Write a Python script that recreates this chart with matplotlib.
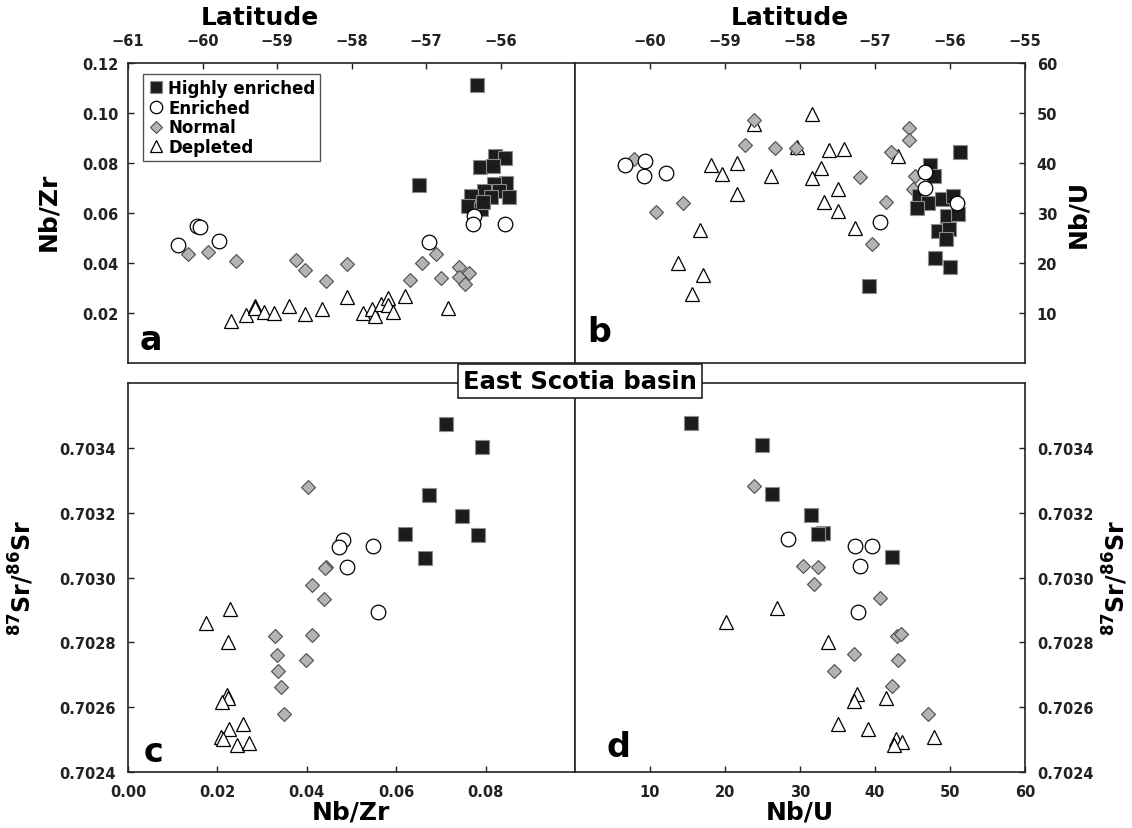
import matplotlib
matplotlib.use("Agg")
import matplotlib.pyplot as plt
from matplotlib.ticker import FormatStrFormatter

plt.rcParams['font.family'] = 'DejaVu Sans'
plt.rcParams['font.weight'] = 'bold'
plt.rcParams['mathtext.default'] = 'bf'

# ---- a: latitude vs Nb/Zr ----
a_he_lat = [-56.31, -57.09, -56.08, -55.94, -56.28, -56.10, -55.92, -56.09, -56.22,
            -56.02, -56.40, -55.89, -56.13, -56.44, -56.26, -56.24]
a_he_nbzr = [0.1112, 0.0712, 0.0829, 0.0819, 0.0783, 0.0789, 0.0719, 0.0716, 0.0689,
             0.0689, 0.0669, 0.0663, 0.0663, 0.0629, 0.0616, 0.0643]
a_en_lat = [-60.33, -60.07, -60.04, -59.78, -56.96, -56.35, -56.37, -55.94]
a_en_nbzr = [0.0472, 0.0547, 0.0545, 0.0489, 0.0485, 0.0587, 0.0556, 0.0555]
a_no_lat = [-60.20, -59.92, -59.55, -58.75, -58.62, -58.34, -58.06, -57.22, -57.05,
            -56.87, -56.80, -56.56, -56.42, -56.56, -56.48]
a_no_nbzr = [0.0436, 0.0443, 0.0409, 0.0411, 0.0373, 0.0329, 0.0397, 0.0332, 0.0400,
             0.0436, 0.0339, 0.0383, 0.0360, 0.0343, 0.0316]
a_de_lat = [-59.62, -59.42, -59.29, -59.30, -59.17, -59.04, -58.84, -58.63, -58.40,
            -58.06, -57.85, -57.73, -57.69, -57.60, -57.51, -57.51, -57.44, -57.28, -56.70]
a_de_nbzr = [0.0169, 0.0192, 0.0229, 0.0222, 0.0205, 0.0200, 0.0227, 0.0196, 0.0216,
             0.0263, 0.0200, 0.0216, 0.0187, 0.0236, 0.0259, 0.0232, 0.0203, 0.0269, 0.0219]

# ---- b: latitude vs Nb/U ----
b_he_lat = [-55.87, -56.27, -56.22, -56.42, -56.29, -56.44, -56.11, -55.96, -56.04,
            -55.89, -56.16, -56.02, -56.06, -56.20, -56.00, -57.08]
b_he_nbu = [42.3, 39.6, 37.5, 33.5, 32.0, 31.1, 32.8, 33.5, 29.5,
            29.8, 26.5, 26.9, 24.9, 21.1, 19.3, 15.5]
b_en_lat = [-60.34, -60.07, -60.08, -59.79, -56.94, -56.33, -56.33, -55.91]
b_en_nbu = [39.6, 40.5, 37.5, 38.0, 28.3, 38.3, 35.1, 32.0]
b_no_lat = [-60.21, -59.92, -59.56, -58.74, -58.61, -58.33, -58.05, -57.20, -56.86,
            -57.04, -56.79, -56.55, -56.55, -56.47, -56.50]
b_no_nbu = [40.8, 30.3, 32.0, 43.6, 48.6, 43.1, 43.1, 37.3, 32.3,
            23.8, 42.3, 47.1, 44.7, 37.5, 34.8]
b_de_lat = [-58.61, -57.84, -58.04, -59.19, -59.04, -58.84, -58.39, -58.84, -59.33,
            -59.63, -59.29, -59.44, -57.61, -57.42, -57.72, -57.84, -57.50, -57.68,
            -57.50, -57.27, -56.69]
b_de_nbu = [47.8, 49.8, 43.3, 39.6, 37.8, 40.0, 37.5, 33.8, 26.7,
            20.0, 17.6, 13.8, 42.7, 42.8, 39.1, 37.1, 34.8, 32.3,
            30.5, 27.1, 41.5]

# ---- c: Nb/Zr vs 87Sr/86Sr ----
c_he_nbzr = [0.0712, 0.0793, 0.0673, 0.0748, 0.0620, 0.0784, 0.0664]
c_he_sr = [0.703473, 0.703403, 0.703253, 0.703191, 0.703135, 0.703130, 0.703060]
c_en_nbzr = [0.0482, 0.0471, 0.0548, 0.0491, 0.0560]
c_en_sr = [0.703115, 0.703094, 0.703096, 0.703033, 0.702893]
c_no_nbzr = [0.0403, 0.0443, 0.0441, 0.0411, 0.0438, 0.0329, 0.0411, 0.0334,
             0.0399, 0.0336, 0.0342, 0.0348]
c_no_sr = [0.703280, 0.703033, 0.703028, 0.702977, 0.702934, 0.702818, 0.702823,
           0.702762, 0.702744, 0.702711, 0.702663, 0.702580]
c_de_nbzr = [0.0175, 0.0228, 0.0224, 0.0222, 0.0223, 0.0211, 0.0226, 0.0258,
             0.0207, 0.0213, 0.0243, 0.0270]
c_de_sr = [0.702861, 0.702903, 0.702800, 0.702639, 0.702629, 0.702616, 0.702534,
           0.702547, 0.702509, 0.702501, 0.702483, 0.702491]

# ---- d: Nb/U vs 87Sr/86Sr ----
d_he_nbu = [15.5, 24.9, 26.3, 31.4, 33.1, 32.4, 42.2]
d_he_sr = [0.703476, 0.703408, 0.703258, 0.703194, 0.703138, 0.703133, 0.703064]
d_en_nbu = [28.4, 37.3, 39.6, 38.0, 37.7]
d_en_sr = [0.703118, 0.703097, 0.703097, 0.703035, 0.702893]
d_no_nbu = [23.8, 30.4, 32.4, 31.9, 40.7, 42.9, 43.5, 37.2, 43.0, 34.5, 42.2, 47.0]
d_no_sr = [0.703283, 0.703035, 0.703031, 0.702979, 0.702936, 0.702820, 0.702826,
           0.702764, 0.702745, 0.702713, 0.702665, 0.702580]
d_de_nbu = [20.1, 26.9, 33.8, 37.6, 37.2, 41.5, 35.0, 39.1, 42.8, 43.6, 42.5, 47.8]
d_de_sr = [0.702864, 0.702905, 0.702800, 0.702642, 0.702619, 0.702629, 0.702547,
           0.702534, 0.702503, 0.702493, 0.702483, 0.702509]

# marker styles for the four groups
sty_he = dict(ls='none', marker='s', ms=9.5, mfc='#1c1c1c', mec='#8c8c8c', mew=0.8)
sty_en = dict(ls='none', marker='o', ms=10.5, mfc='white', mec='black', mew=0.9)
sty_no = dict(ls='none', marker='D', ms=7.4, mfc='#b3b3b3', mec='#4d4d4d', mew=0.8)
sty_de = dict(ls='none', marker='^', ms=10.5, mfc='white', mec='black', mew=0.9)

W, H = 1132, 829
fig = plt.figure(figsize=(W / 100, H / 100), dpi=100)


def rect(x0, y0, x1, y1):
    return [x0 / W, 1 - y1 / H, (x1 - x0) / W, (y1 - y0) / H]


ax_a = fig.add_axes(rect(128, 64, 575, 364))
ax_b = fig.add_axes(rect(575, 64, 1025, 364))
ax_c = fig.add_axes(rect(128, 384, 575, 773))
ax_d = fig.add_axes(rect(575, 384, 1025, 773))

panels = [
    (ax_a, a_he_lat, a_he_nbzr, a_en_lat, a_en_nbzr, a_no_lat, a_no_nbzr, a_de_lat, a_de_nbzr),
    (ax_b, b_he_lat, b_he_nbu, b_en_lat, b_en_nbu, b_no_lat, b_no_nbu, b_de_lat, b_de_nbu),
    (ax_c, c_he_nbzr, c_he_sr, c_en_nbzr, c_en_sr, c_no_nbzr, c_no_sr, c_de_nbzr, c_de_sr),
    (ax_d, d_he_nbu, d_he_sr, d_en_nbu, d_en_sr, d_no_nbu, d_no_sr, d_de_nbu, d_de_sr),
]
for ax, hx, hy, ex, ey, nx, ny, dx, dy in panels:
    l_de, = ax.plot(dx, dy, **sty_de)
    l_no, = ax.plot(nx, ny, **sty_no)
    l_he, = ax.plot(hx, hy, **sty_he)
    l_en, = ax.plot(ex, ey, **sty_en)
    for s in ax.spines.values():
        s.set_linewidth(1.2)
        s.set_color('#222222')
    ax.tick_params(direction='in', length=4, width=1, labelsize=10.5, colors='#222222')

# axis limits and ticks
ax_a.set_xlim(-61, -55)
ax_a.set_ylim(0, 0.12)
ax_a.set_xticks([-61, -60, -59, -58, -57, -56])
ax_a.set_yticks([0.02, 0.04, 0.06, 0.08, 0.10, 0.12])
ax_a.yaxis.set_major_formatter(FormatStrFormatter('%.2f'))
ax_a.xaxis.tick_top()
ax_a.tick_params(axis='x', pad=11)
ax_a.tick_params(axis='y', pad=7)

ax_b.set_xlim(-61, -55)
ax_b.set_ylim(0, 60)
ax_b.set_xticks([-60, -59, -58, -57, -56, -55])
ax_b.set_yticks([10, 20, 30, 40, 50, 60])
ax_b.xaxis.tick_top()
ax_b.yaxis.tick_right()
ax_b.tick_params(axis='x', pad=11)
ax_b.tick_params(axis='y', pad=8.5)

ax_c.set_xlim(0, 0.10)
ax_c.set_ylim(0.7024, 0.7036)
ax_c.set_xticks([0.00, 0.02, 0.04, 0.06, 0.08])
ax_c.set_yticks([0.7024, 0.7026, 0.7028, 0.7030, 0.7032, 0.7034])
ax_c.xaxis.set_major_formatter(FormatStrFormatter('%.2f'))
ax_c.yaxis.set_major_formatter(FormatStrFormatter('%.4f'))
ax_c.tick_params(axis='x', pad=9)
ax_c.tick_params(axis='y', pad=9)

ax_d.set_xlim(0, 60)
ax_d.set_ylim(0.7024, 0.7036)
ax_d.set_xticks([10, 20, 30, 40, 50, 60])
ax_d.set_yticks([0.7024, 0.7026, 0.7028, 0.7030, 0.7032, 0.7034])
ax_d.yaxis.set_major_formatter(FormatStrFormatter('%.4f'))
ax_d.yaxis.tick_right()
ax_d.tick_params(axis='x', pad=9)
ax_d.tick_params(axis='y', pad=8.5)

for ax in (ax_a, ax_b, ax_c, ax_d):
    for lab in ax.get_xticklabels() + ax.get_yticklabels():
        lab.set_fontweight('bold')

# panel letters
ax_a.text(0.027, 0.047, 'a', transform=ax_a.transAxes, fontsize=24, fontweight='bold')
ax_b.text(0.027, 0.073, 'b', transform=ax_b.transAxes, fontsize=24, fontweight='bold')
ax_c.text(0.036, 0.028, 'c', transform=ax_c.transAxes, fontsize=24, fontweight='bold')
ax_d.text(0.071, 0.041, 'd', transform=ax_d.transAxes, fontsize=24, fontweight='bold')

# legend in panel a
leg = ax_a.legend([l_he, l_en, l_no, l_de], ['Highly enriched', 'Enriched', 'Normal', 'Depleted'],
                  loc='upper left', bbox_to_anchor=(0.034, 0.963), borderaxespad=0,
                  markerscale=0.85, handlelength=0.9, handletextpad=0.3,
                  labelspacing=0.1, borderpad=0.3, fancybox=False, framealpha=1,
                  edgecolor='#555555', prop={'weight': 'bold', 'size': 12})
leg.get_frame().set_linewidth(1.0)

# axis titles
fig.text(260 / W, 1 - 18 / H, 'Latitude', ha='center', va='center', fontsize=18, fontweight='bold')
fig.text(790 / W, 1 - 18 / H, 'Latitude', ha='center', va='center', fontsize=18, fontweight='bold')
fig.text(351 / W, 1 - 813 / H, 'Nb/Zr', ha='center', va='center', fontsize=18, fontweight='bold')
fig.text(800 / W, 1 - 813 / H, 'Nb/U', ha='center', va='center', fontsize=18, fontweight='bold')
fig.text(48 / W, 1 - 212 / H, 'Nb/Zr', ha='center', va='center', rotation=90, fontsize=18, fontweight='bold')
fig.text(1078 / W, 1 - 214 / H, 'Nb/U', ha='center', va='center', rotation=90, fontsize=18, fontweight='bold')
fig.text(22 / W, 1 - 578 / H, r'$^{87}$Sr/$^{86}$Sr', ha='center', va='center', rotation=90,
         fontsize=17, fontweight='bold')
fig.text(1116 / W, 1 - 578 / H, r'$^{87}$Sr/$^{86}$Sr', ha='center', va='center', rotation=90,
         fontsize=17, fontweight='bold')

# region label straddling the two rows
fig.text(580 / W, 1 - 382 / H, 'East Scotia basin', ha='center', va='center', fontsize=17.5,
         fontweight='bold', zorder=10,
         bbox=dict(boxstyle='square,pad=0.22', fc='white', ec='#222222', lw=1.2))

fig.savefig('out.png', dpi=100)
